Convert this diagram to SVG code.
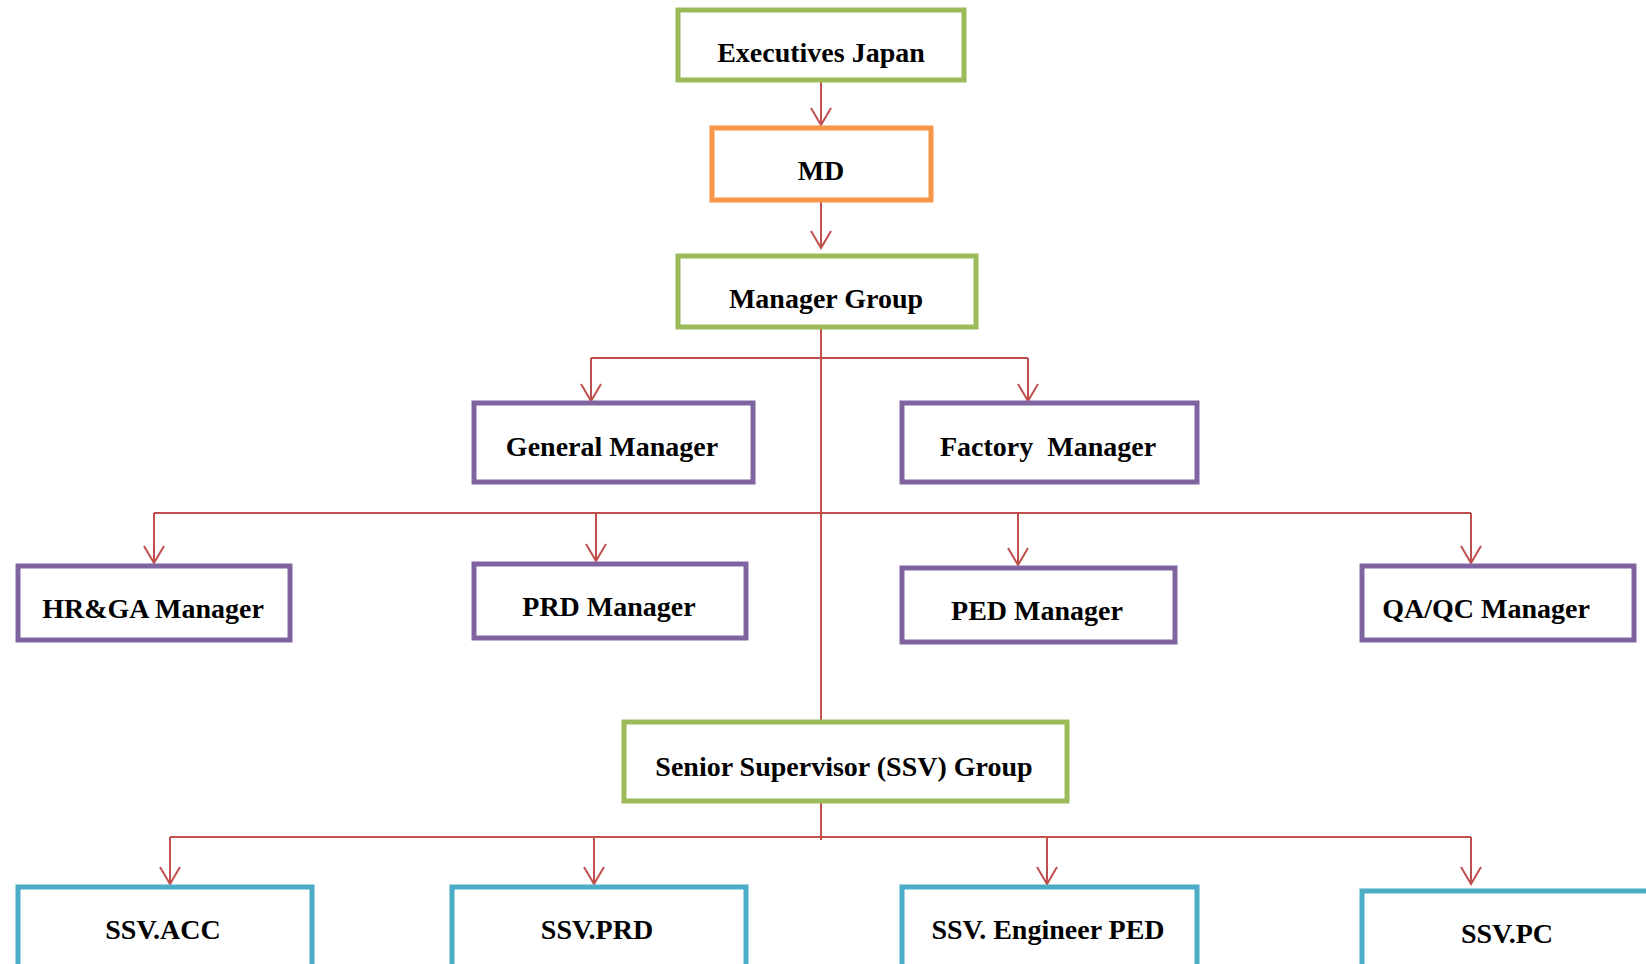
<svg xmlns="http://www.w3.org/2000/svg" width="1646" height="964" viewBox="0 0 1646 964">
<style>
.box{fill:#fff;stroke-width:5}
.g{stroke:#9BBB59}.o{stroke:#F79646}.p{stroke:#8064A2}.b{stroke:#4BACC6}
.t{font-family:"Liberation Serif","Times New Roman",serif;font-weight:bold;font-size:28px;fill:#000;text-anchor:middle}
.c{stroke:#C0504D;stroke-width:2;fill:none}
.a{marker-end:url(#arr)}
</style>
<defs>
<marker id="arr" viewBox="0 0 20 22" refX="18" refY="11" markerWidth="20" markerHeight="22" markerUnits="userSpaceOnUse" orient="auto">
<path d="M1,1 L18,11 L1,21" fill="none" stroke="#C0504D" stroke-width="2"/>
</marker>
</defs>
<rect width="1646" height="964" fill="#fff"/>
<g id="connectors">
<path class="c a" d="M821,81 V125"/>
<path class="c a" d="M821,200 V248"/>
<path class="c" d="M821,327 V720"/>
<path class="c" d="M591,358 H1028"/>
<path class="c a" d="M591,358 V401"/>
<path class="c a" d="M1028,358 V401"/>
<path class="c" d="M154,513 H1471"/>
<path class="c a" d="M154,513 V563"/>
<path class="c a" d="M596,513 V561"/>
<path class="c a" d="M1018,513 V565"/>
<path class="c a" d="M1471,513 V563"/>
<path class="c" d="M821,802 V840"/>
<path class="c" d="M170,837 H1471"/>
<path class="c a" d="M170,837 V884"/>
<path class="c a" d="M594,837 V884"/>
<path class="c a" d="M1047,837 V884"/>
<path class="c a" d="M1471,837 V884"/>
</g>
<g id="exec"><rect class="box g" x="678" y="10" width="286" height="70"/><text class="t" x="821" y="62">Executives Japan</text></g>
<g id="md"><rect class="box o" x="712" y="128" width="219" height="72"/><text class="t" x="821" y="180">MD</text></g>
<g id="mgrgroup"><rect class="box g" x="678" y="256" width="298" height="71"/><text class="t" x="826" y="308">Manager Group</text></g>
<g id="gm"><rect class="box p" x="474" y="403" width="279" height="79"/><text class="t" x="612" y="456">General Manager</text></g>
<g id="fm"><rect class="box p" x="902" y="403" width="295" height="79"/><text class="t" x="1048" y="456" xml:space="preserve">Factory  Manager</text></g>
<g id="hrga"><rect class="box p" x="18" y="566" width="272" height="74"/><text class="t" x="153" y="618">HR&amp;GA Manager</text></g>
<g id="prd"><rect class="box p" x="474" y="564" width="272" height="74"/><text class="t" x="609" y="616">PRD Manager</text></g>
<g id="ped"><rect class="box p" x="902" y="568" width="273" height="74"/><text class="t" x="1037" y="620">PED Manager</text></g>
<g id="qaqc"><rect class="box p" x="1362" y="566" width="272" height="74"/><text class="t" x="1486" y="618">QA/QC Manager</text></g>
<g id="ssvgroup"><rect class="box g" x="624" y="722" width="443" height="79"/><text class="t" x="844" y="776">Senior Supervisor (SSV) Group</text></g>
<g id="ssvacc"><rect class="box b" x="18" y="887" width="294" height="90"/><text class="t" x="163" y="939">SSV.ACC</text></g>
<g id="ssvprd"><rect class="box b" x="452" y="887" width="294" height="90"/><text class="t" x="597" y="939">SSV.PRD</text></g>
<g id="ssveng"><rect class="box b" x="902" y="887" width="295" height="90"/><text class="t" x="1048" y="939">SSV. Engineer PED</text></g>
<g id="ssvpc"><rect class="box b" x="1362" y="891" width="300" height="90"/><text class="t" x="1507" y="943">SSV.PC</text></g>
</svg>
